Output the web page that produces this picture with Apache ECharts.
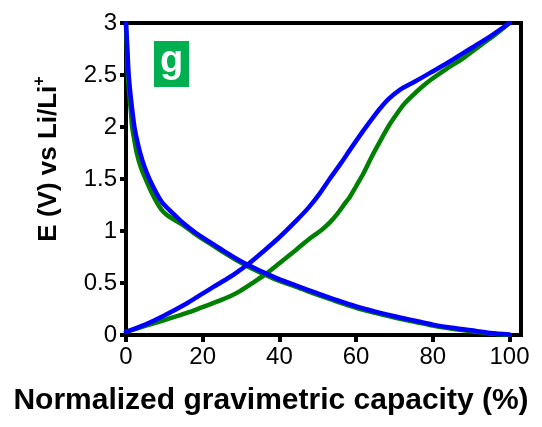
<!DOCTYPE html>
<html>
<head>
<meta charset="utf-8">
<script src="https://cdn.jsdelivr.net/npm/echarts@6/dist/echarts.min.js"></script>
<style>
  html, body { margin: 0; padding: 0; background: #fff; }
  #chart { width: 542px; height: 427px; }
</style>
</head>
<body>
<div id="chart"></div>
<script>
// Capacity (%) and potential (V) for each galvanostatic branch
const dischargeGreenX = [0, 0.15, 0.3, 0.5, 0.9, 1.3, 1.6, 2.2, 2.8, 3.8, 5.1, 6.3, 7.5, 8.6, 9.6, 10.8, 12.5, 15, 17.9, 21.8, 25, 29, 32, 36, 40, 44.4, 50, 55, 60, 65, 70, 75, 80, 85, 90, 95, 100];
const dischargeGreenY = [2.98, 2.84, 2.7, 2.5, 2.3, 2.14, 2.0, 1.87, 1.75, 1.62, 1.5, 1.4, 1.31, 1.24, 1.19, 1.15, 1.11, 1.055, 0.975, 0.88, 0.805, 0.715, 0.655, 0.585, 0.52, 0.462, 0.385, 0.322, 0.262, 0.213, 0.168, 0.13, 0.09, 0.06, 0.035, 0.015, 0.0];

const chargeGreenX = [0, 3, 7, 11, 15.7, 19.4, 24.4, 27, 29.6, 33, 36.2, 40, 44.4, 48, 51, 53.1, 55, 57, 58.4, 60, 62, 64, 66.2, 68.5, 70.5, 72.5, 74.9, 77, 79.3, 83.6, 87.9, 92.6, 96, 100];
const chargeGreenY = [0.03, 0.065, 0.11, 0.155, 0.21, 0.26, 0.33, 0.37, 0.42, 0.5, 0.58, 0.69, 0.82, 0.93, 1.01, 1.08, 1.16, 1.26, 1.33, 1.43, 1.56, 1.71, 1.86, 2.01, 2.12, 2.22, 2.31, 2.38, 2.45, 2.56, 2.66, 2.79, 2.88, 3.0];

const dischargeBlueX = [0, 0.2, 0.4, 0.7, 1.2, 1.7, 2.2, 2.9, 3.7, 4.8, 6.1, 8.0, 9.5, 10.8, 12.5, 15, 17.9, 21.8, 25, 29, 32, 36, 40, 44.4, 50, 55, 60, 65, 70, 75, 80, 85, 90, 95, 100];
const dischargeBlueY = [3.0, 2.86, 2.71, 2.5, 2.3, 2.14, 2.0, 1.87, 1.75, 1.62, 1.5, 1.36, 1.27, 1.22, 1.16, 1.075, 0.99, 0.895, 0.82, 0.73, 0.67, 0.6, 0.535, 0.475, 0.4, 0.335, 0.275, 0.225, 0.18, 0.14, 0.1, 0.07, 0.045, 0.02, 0.005];

const chargeBlueX = [0, 5, 9.6, 15.7, 19.4, 22.7, 27, 29.2, 32, 35.7, 40, 44.4, 47.5, 50.5, 53.1, 56, 58.4, 61.8, 64.4, 66.3, 68.5, 71.5, 75, 79.3, 84, 87.9, 91, 94.9, 100];
const chargeBlueY = [0.03, 0.1, 0.18, 0.30, 0.385, 0.46, 0.555, 0.61, 0.685, 0.8, 0.94, 1.1, 1.22, 1.36, 1.5, 1.65, 1.78, 1.96, 2.09, 2.18, 2.27, 2.36, 2.43, 2.52, 2.62, 2.71, 2.78, 2.87, 3.0];

const xTicks = [0, 20, 40, 60, 80, 100];
const panelLetter = 'g';
const xTitle = 'Normalized gravimetric capacity (%)';
const yTitle = 'E (V) vs Li/Li';

const GREEN = '#008000';
const BLUE = '#0000ff';
const FONT = '"Liberation Sans", Arial, sans-serif';

function pairs(xs, ys) {
  return xs.map((x, i) => [x, ys[i]]);
}

function lineSeries(xs, ys, color) {
  return {
    type: 'line',
    data: pairs(xs, ys),
    showSymbol: false,
    smooth: 0.3,
    lineStyle: { color: color, width: 4.5, cap: 'round', join: 'round' },
    z: color === BLUE ? 3 : 2
  };
}

const chart = echarts.init(document.getElementById('chart'), null, { renderer: 'canvas' });

chart.setOption({
  animation: false,
  backgroundColor: '#fff',
  grid: {
    left: 126, right: 21, top: 23, bottom: 92,
    show: true,
    borderColor: '#000',
    borderWidth: 4,
    backgroundColor: 'transparent'
  },
  xAxis: {
    type: 'value',
    min: 0,
    max: 103,
    interval: 20,
    splitLine: { show: false },
    axisLine: { show: true, onZero: false, lineStyle: { color: '#000', width: 4 } },
    axisTick: { show: true, customValues: xTicks, length: 7, lineStyle: { color: '#000', width: 4 } },
    axisLabel: {
      customValues: xTicks,
      color: '#000', fontSize: 24, fontFamily: FONT, margin: 10
    }
  },
  yAxis: {
    type: 'value',
    min: 0,
    max: 3,
    interval: 0.5,
    splitLine: { show: false },
    axisLine: { show: true, onZero: false, lineStyle: { color: '#000', width: 4 } },
    axisTick: { show: true, length: 6, lineStyle: { color: '#000', width: 4 } },
    axisLabel: { color: '#000', fontSize: 24, fontFamily: FONT, margin: 9 }
  },
  series: [
    lineSeries(dischargeGreenX, dischargeGreenY, GREEN),
    lineSeries(chargeGreenX, chargeGreenY, GREEN),
    lineSeries(dischargeBlueX, dischargeBlueY, BLUE),
    lineSeries(chargeBlueX, chargeBlueY, BLUE)
  ],
  graphic: [
    {
      type: 'rect',
      shape: { x: 154, y: 41, width: 35, height: 46 },
      style: { fill: '#00b050' },
      z: 10
    },
    {
      type: 'text',
      x: 171.5, y: 62,
      style: {
        text: panelLetter,
        fill: '#fff',
        font: 'bold 38px ' + FONT,
        align: 'center',
        verticalAlign: 'middle'
      },
      z: 11
    },
    {
      type: 'text',
      x: 271, y: 401,
      style: {
        text: xTitle,
        fill: '#000',
        font: 'bold 30px ' + FONT,
        align: 'center',
        verticalAlign: 'middle'
      }
    },
    {
      type: 'text',
      x: 47, y: 159,
      rotation: Math.PI / 2,
      style: {
        text: '{m|' + yTitle + '}{s|+}',
        align: 'center',
        verticalAlign: 'middle',
        rich: {
          m: { fill: '#000', fontSize: 26, fontWeight: 'bold', fontFamily: FONT, verticalAlign: 'bottom', lineHeight: 30 },
          s: { fill: '#000', fontSize: 16, fontWeight: 'bold', fontFamily: FONT, verticalAlign: 'top', lineHeight: 30 }
        }
      }
    }
  ]
});
</script>
</body>
</html>
